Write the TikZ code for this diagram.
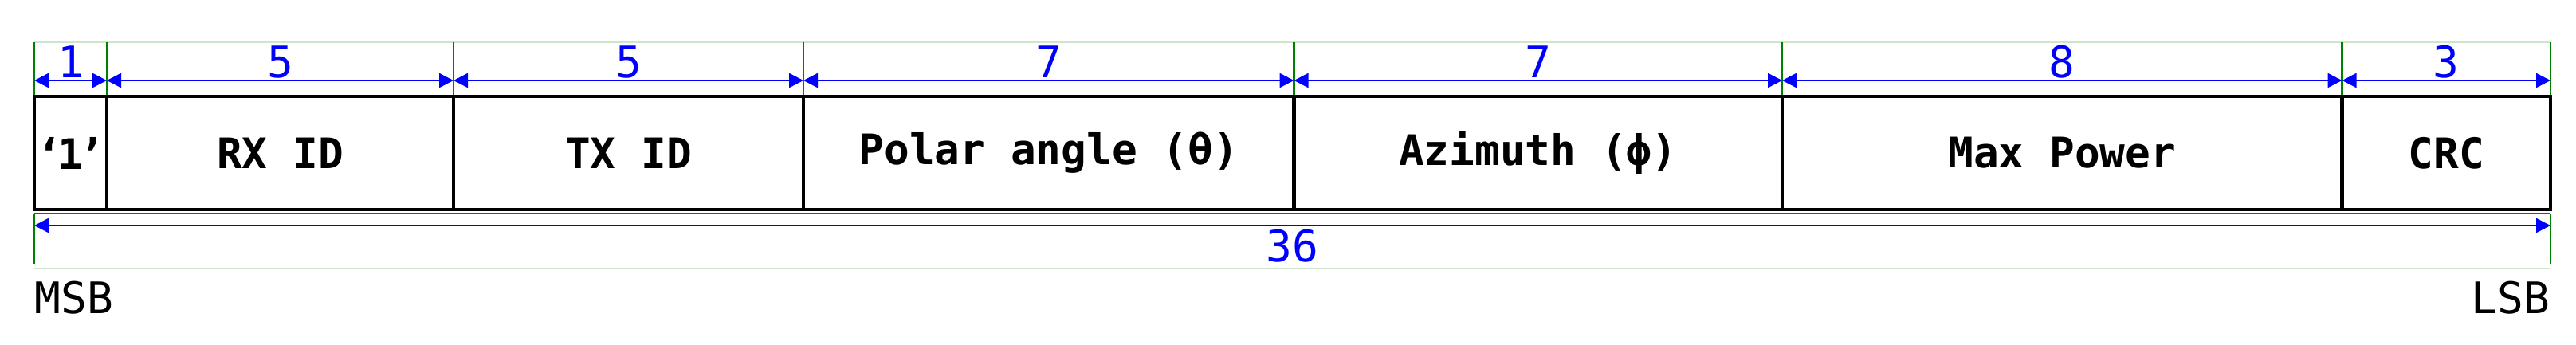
\documentclass[tikz,border=0pt]{standalone}
\usepackage{fontspec}
\setmonofont{DejaVu Sans Mono}
\usetikzlibrary{arrows.meta}
\definecolor{guide}{RGB}{0,128,0}
\definecolor{faint}{RGB}{205,228,205}
\tikzset{
  field/.style={draw=black,line width=1.4pt,outer sep=0pt,inner sep=0pt,minimum height=1.42cm,anchor=north west,font=\ttfamily\bfseries\fontsize{15}{18}\selectfont},
  dim/.style={blue,line width=0.7pt,{Triangle[length=1.8mm,width=1.8mm]}-{Triangle[length=1.8mm,width=1.8mm]}},
  bits/.style={blue,anchor=base,inner sep=0pt,font=\ttfamily\fontsize{15.5}{18}\selectfont},
  ext/.style={guide,line width=0.7pt},
  endlabel/.style={inner sep=0pt,font=\ttfamily\fontsize{15.5}{18}\selectfont},
}
\begin{document}
\begin{tikzpicture}
\useasboundingbox (0,0) rectangle (32.32,4.32);
\coordinate (d0) at (0.43,3.11);
\coordinate (d1) at (1.34,3.11);
\coordinate (d2) at (5.69,3.11);
\coordinate (d3) at (10.08,3.11);
\coordinate (d4) at (16.235,3.11);
\coordinate (d5) at (22.36,3.11);
\coordinate (d6) at (29.385,3.11);
\coordinate (d7) at (32.00,3.11);
\draw[faint,line width=0.3pt] (0.43,3.79) -- (32.0,3.79);
\draw[faint,line width=0.3pt] (0.43,0.95) -- (32.0,0.95);
\draw[ext] (d0) -- ++(0,0.68);
\draw[ext] (d1) -- ++(0,0.68);
\draw[ext] (d2) -- ++(0,0.68);
\draw[ext] (d3) -- ++(0,0.68);
\draw[ext] (d4) -- ++(0,0.68);
\draw[ext] (d5) -- ++(0,0.68);
\draw[ext] (d6) -- ++(0,0.68);
\draw[ext] (d7) -- ++(0,0.68);
\coordinate (bl) at (0.43,1.64);
\coordinate (br) at (32.0,1.64);
\draw[ext] (bl) -- (br);
\draw[ext] (bl) -- ++(0,-0.63);
\draw[ext] (br) -- ++(0,-0.63);
\node[field,minimum width=0.91cm] (start) at (d0) {\makebox[0pt]{‘\kern-1.5pt1\kern-1.5pt’}};
\node[field,minimum width=4.35cm] (rxid) at (d1) {RX ID};
\node[field,minimum width=4.39cm] (txid) at (d2) {TX ID};
\node[field,minimum width=6.155cm] (polar) at (d3) {Polar angle (θ)};
\node[field,minimum width=6.125cm] (azim) at (d4) {Azimuth (ϕ)};
\node[field,minimum width=7.025cm] (power) at (d5) {Max Power};
\node[field,minimum width=2.615cm] (crc) at (d6) {CRC};
\draw[dim] ([yshift=2mm]d0) -- node[bits,midway,yshift=0.4mm]{1} ([yshift=2mm]d1);
\draw[dim] ([yshift=2mm]d1) -- node[bits,midway,yshift=0.4mm]{5} ([yshift=2mm]d2);
\draw[dim] ([yshift=2mm]d2) -- node[bits,midway,yshift=0.4mm]{5} ([yshift=2mm]d3);
\draw[dim] ([yshift=2mm]d3) -- node[bits,midway,yshift=0.4mm]{7} ([yshift=2mm]d4);
\draw[dim] ([yshift=2mm]d4) -- node[bits,midway,yshift=0.4mm]{7} ([yshift=2mm]d5);
\draw[dim] ([yshift=2mm]d5) -- node[bits,midway,yshift=0.4mm]{8} ([yshift=2mm]d6);
\draw[dim] ([yshift=2mm]d6) -- node[bits,midway,yshift=0.4mm]{3} ([yshift=2mm]d7);
\draw[dim] ([yshift=-1.5mm]bl) -- node[bits,midway,yshift=-4.5mm]{36} ([yshift=-1.5mm]br);
\node[endlabel,anchor=base west] (msb) at (0.43,0.39) {MSB};
\node[endlabel,anchor=base east] (lsb) at (32.0,0.39) {LSB};
\end{tikzpicture}
\end{document}
